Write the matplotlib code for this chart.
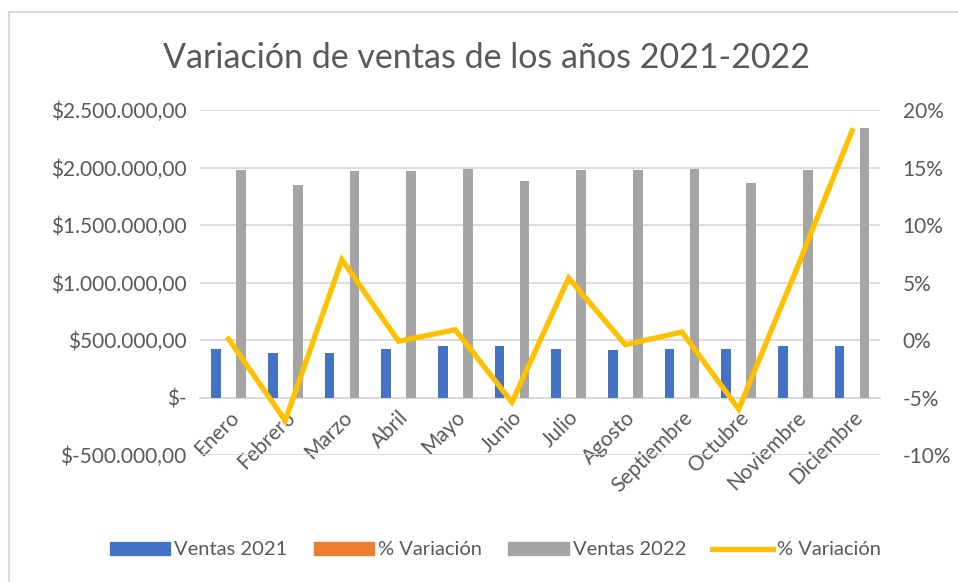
import numpy as np
import matplotlib.pyplot as plt
from matplotlib.ticker import FuncFormatter
from matplotlib.lines import Line2D
from matplotlib.patches import Patch

plt.rcParams['font.family'] = ['Lato', 'DejaVu Sans']

# -----------------------------
# Data
# -----------------------------
meses = ["Enero", "Febrero", "Marzo", "Abril", "Mayo", "Junio", "Julio",
         "Agosto", "Septiembre", "Octubre", "Noviembre", "Diciembre"]
ventas_2021 = [425000, 390000, 390000, 425000, 448000, 448000,
               425000, 416000, 425000, 425000, 448000, 448000]
ventas_2022 = [1980000, 1845000, 1970000, 1970000, 1990000, 1880000,
               1980000, 1980000, 1990000, 1867000, 1980000, 2347000]
variacion = [0.001, -0.070, 0.070, -0.001, 0.009, -0.054,
             0.054, -0.004, 0.007, -0.060, 0.059, 0.182]

c_blue = "#4472C4"
c_orange = "#ED7D31"
c_gray = "#A5A5A5"
c_yellow = "#FFC000"
c_text = "#595959"
c_grid = "#D9D9D9"

x = np.arange(len(meses))
w = 0.17

fig = plt.figure(figsize=(9.58, 5.82), dpi=100)
ax = fig.add_axes([0.209, 0.218, 0.710, 0.593])
ax2 = ax.twinx()

# bars on primary axis
ax.bar(x - 0.22, ventas_2021, w, color=c_blue, zorder=3)
ax.bar(x, variacion, w, color=c_orange, zorder=3)  # % values on $ axis -> invisible
ax.bar(x + 0.22, ventas_2022, w, color=c_gray, zorder=3)

# line on secondary axis
ax2.plot(x, variacion, color=c_yellow, lw=3.8, solid_joinstyle='miter', zorder=4)

ax.set_xlim(-0.5, len(meses) - 0.5)
ax.set_ylim(-500000, 2500000)
ax.set_yticks(np.arange(-500000, 2500001, 500000))
ax2.set_ylim(-0.10, 0.20)
ax2.set_yticks(np.arange(-0.10, 0.2001, 0.05))


def pesos(v, pos):
    if abs(v) < 1:
        return "$-"
    s = f"{abs(v):,.2f}".replace(",", "X").replace(".", ",").replace("X", ".")
    return ("$-" if v < 0 else "$") + s


ax.yaxis.set_major_formatter(FuncFormatter(pesos))
ax2.yaxis.set_major_formatter(FuncFormatter(lambda v, p: f"{v * 100:.0f}%"))

ax.grid(axis='y', color=c_grid, lw=1.3, zorder=0)
ax.set_axisbelow(True)

for a in (ax, ax2):
    for s in a.spines.values():
        s.set_visible(False)
    a.tick_params(length=0, labelsize=15, labelcolor=c_text)

# category labels sit on the zero line
ax.spines['bottom'].set_visible(True)
ax.spines['bottom'].set_position(('data', 0))
ax.spines['bottom'].set_color(c_grid)
ax.spines['bottom'].set_linewidth(1.3)
ax.set_xticks(x)
ax.set_xticklabels(meses, rotation=45, ha='right', rotation_mode='anchor')
ax.tick_params(axis='x', pad=7, labelsize=15)
ax.tick_params(axis='y', pad=10)
ax2.tick_params(axis='y', pad=16)

fig.text(0.508, 0.90, "Variación de ventas de los años 2021-2022",
         ha='center', va='center', fontsize=24.5, color=c_text)

handles = [Patch(color=c_blue), Patch(color=c_orange), Patch(color=c_gray),
           Line2D([], [], color=c_yellow, lw=3.8)]
labels = ["Ventas 2021", "% Variación", "Ventas 2022", "% Variación"]
fig.legend(handles, labels, loc='center', bbox_to_anchor=(0.517, 0.055), ncol=4,
           frameon=False, fontsize=14.5, labelcolor=c_text, handlelength=3.0,
           handleheight=0.6, columnspacing=1.3, handletextpad=0.2)

# chart border (light gray)
fig.add_artist(Line2D([9 / 958, 9 / 958], [0, 1 - 12 / 582], color=c_grid, lw=1.5))
fig.add_artist(Line2D([9 / 958, 1], [1 - 12 / 582, 1 - 12 / 582], color=c_grid, lw=1.5))

fig.savefig("out.png", dpi=100)
